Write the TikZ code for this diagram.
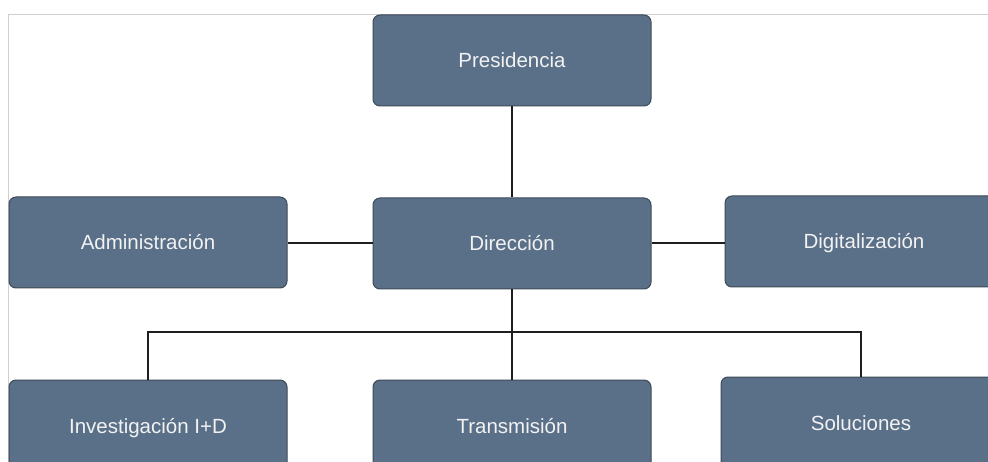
\documentclass[tikz,border=0pt]{standalone}
\usepackage{fontspec}
\setmainfont{Liberation Sans}
\definecolor{boxfill}{HTML}{5A7089}
\definecolor{boxline}{HTML}{3E4A57}
\definecolor{boxtext}{HTML}{F2F2F2}
\definecolor{framegray}{HTML}{D0D0D0}
\definecolor{conn}{HTML}{1E1E1E}
\begin{document}
\begin{tikzpicture}[x=1pt,y=-1pt,
  unit/.style={draw=boxline, line width=1pt, fill=boxfill, rounded corners=7pt,
    minimum width=278pt, minimum height=91pt, inner sep=0pt,
    text height=15pt, text depth=0pt,
    text=boxtext, font=\fontsize{20.5}{24}\selectfont},
  link/.style={draw=conn, line width=2pt}]
\path[use as bounding box, clip] (0,0) rectangle (988,462);
\fill[white] (0,0) rectangle (988,462);
\draw[framegray, line width=1pt] (988,14.5) -- (8.5,14.5) -- (8.5,462);
\node[unit] (pres) at (512,60.5) {Presidencia};
\node[unit] (dir) at (512,243.5) {Dirección};
\node[unit] (adm) at (148,242.5) {Administración};
\node[unit] (dig) at (864,241.5) {Digitalización};
\node[unit] (inv) at (148,425.5) {Investigación I+D};
\node[unit] (tra) at (512,425.5) {Transmisión};
\node[unit, minimum width=280pt] (sol) at (861,422.5) {Soluciones};
\coordinate (bus) at (512,332);
\draw[link] (pres.south) -- (dir.north);
\draw[link] (adm.east |- dir.west) -- (dir.west);
\draw[link] (dir.east) -- (dig.west |- dir.east);
\draw[link] (dir.south) -- (bus);
\draw[link] (bus) -| (inv.north);
\draw[link] (bus) -| (sol.north);
\draw[link] (bus) -- (tra.north);
\end{tikzpicture}
\end{document}
